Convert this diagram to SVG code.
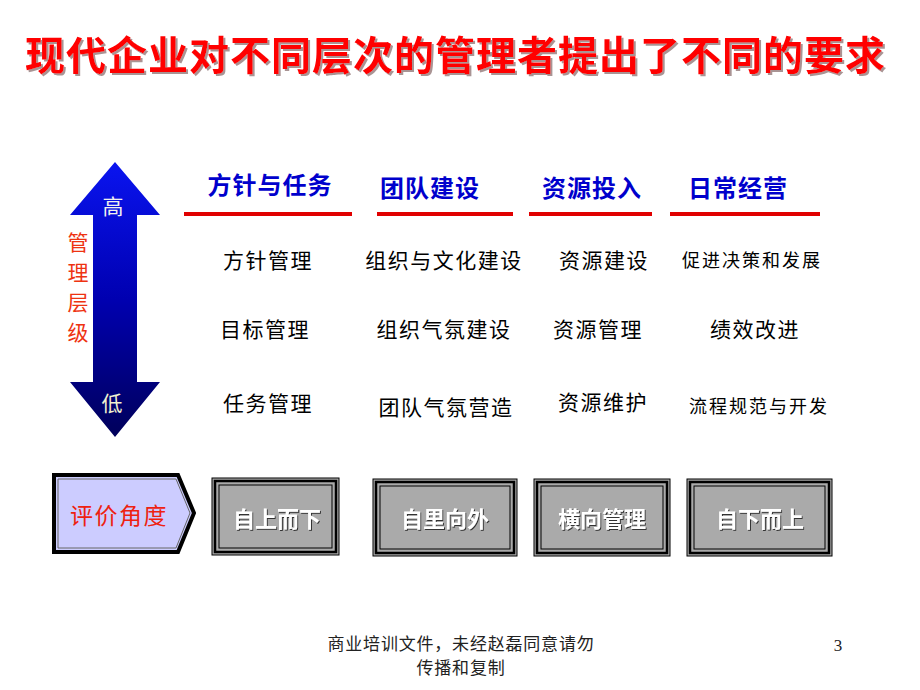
<svg xmlns="http://www.w3.org/2000/svg" width="920" height="690" viewBox="0 0 920 690">
<defs>
<linearGradient id="arrowGrad" x1="0" y1="0" x2="0" y2="1">
<stop offset="0" stop-color="#0a14f0"/>
<stop offset="0.5" stop-color="#0000b0"/>
<stop offset="1" stop-color="#00005a"/>
</linearGradient>
<filter id="tshadow" x="-5%" y="-20%" width="110%" height="140%">
<feDropShadow dx="2" dy="2" stdDeviation="0.6" flood-color="#a08888" flood-opacity="0.9"/>
</filter>
<filter id="bshadow" x="-5%" y="-20%" width="110%" height="140%">
<feDropShadow dx="1" dy="1" stdDeviation="0.3" flood-color="#333333" flood-opacity="1"/>
</filter>
</defs>
<style>
.cjk{font-family:"Noto Sans CJK SC","Noto Sans",sans-serif;}
.title{font-size:40px;font-weight:bold;fill:#ff0000;}
.head{font-size:24px;font-weight:bold;fill:#0000cc;}
.cell{font-size:21px;fill:#000000;}
.small{font-size:18px;fill:#000000;}
.uline{stroke:#e00000;stroke-width:4;}
.boxtxt{font-size:22px;fill:#ffffff;font-weight:bold;}
.foot{font-size:17px;fill:#222222;}
</style>
<rect width="920" height="690" fill="#ffffff"/>

<g id="title">
<text class="cjk title" x="455" y="70" text-anchor="middle" textLength="860" lengthAdjust="spacing" filter="url(#tshadow)">现代企业对不同层次的管理者提出了不同的要求</text>
</g>

<g id="level-arrow">
<polygon points="115,162 160,215 137,215 137,382 160,382 115,437 70,382 93,382 93,215 70,215" fill="url(#arrowGrad)"/>
<text class="cjk" x="113" y="214" text-anchor="middle" font-size="21" fill="#f0f0f0">高</text>
<text class="cjk" x="112" y="411" text-anchor="middle" font-size="21" fill="#f0f0d0">低</text>
</g>

<g id="level-label" class="cjk" font-size="21" fill="#ee3311" text-anchor="middle">
<text x="78" y="250">管</text>
<text x="78" y="280">理</text>
<text x="78" y="310">层</text>
<text x="78" y="340">级</text>
</g>

<g id="col1">
<text class="cjk head" x="270" y="194" text-anchor="middle" letter-spacing="1">方针与任务</text>
<line class="uline" x1="184" y1="214" x2="352" y2="214"/>
<text class="cjk cell" x="268" y="268" text-anchor="middle" letter-spacing="1.5">方针管理</text>
<text class="cjk cell" x="265" y="337" text-anchor="middle" letter-spacing="1.5">目标管理</text>
<text class="cjk cell" x="268" y="411" text-anchor="middle" letter-spacing="1.5">任务管理</text>
</g>

<g id="col2">
<text class="cjk head" x="430" y="197" text-anchor="middle" letter-spacing="1">团队建设</text>
<line class="uline" x1="377" y1="214" x2="513" y2="214"/>
<text class="cjk cell" x="444" y="268" text-anchor="middle" letter-spacing="1.5">组织与文化建设</text>
<text class="cjk cell" x="444" y="337" text-anchor="middle" letter-spacing="1.5">组织气氛建设</text>
<text class="cjk cell" x="446" y="415" text-anchor="middle" letter-spacing="1.5">团队气氛营造</text>
</g>

<g id="col3">
<text class="cjk head" x="592" y="197" text-anchor="middle" letter-spacing="1">资源投入</text>
<line class="uline" x1="529" y1="214" x2="652" y2="214"/>
<text class="cjk cell" x="604" y="268" text-anchor="middle" letter-spacing="1.5">资源建设</text>
<text class="cjk cell" x="598" y="337" text-anchor="middle" letter-spacing="1.5">资源管理</text>
<text class="cjk cell" x="603" y="410" text-anchor="middle" letter-spacing="1.5">资源维护</text>
</g>

<g id="col4">
<text class="cjk head" x="738" y="197" text-anchor="middle" letter-spacing="1">日常经营</text>
<line class="uline" x1="670" y1="214" x2="820" y2="214"/>
<text class="cjk small" x="752" y="267" text-anchor="middle" letter-spacing="2">促进决策和发展</text>
<text class="cjk cell" x="755" y="337" text-anchor="middle" letter-spacing="1.5">绩效改进</text>
<text class="cjk small" x="759" y="413" text-anchor="middle" letter-spacing="2">流程规范与开发</text>
</g>

<g id="eval">
<polygon points="54,475 178,475 194,513 178,552 54,552" fill="#ccccff" stroke="#000000" stroke-width="4"/>
<polygon points="58,479 176,479 190,513 176,548 58,548" fill="none" stroke="#666666" stroke-width="1"/>
<text class="cjk" x="119" y="524" text-anchor="middle" font-size="23" fill="#ee2211" letter-spacing="1.5">评价角度</text>
</g>

<g id="box1">
<rect x="212" y="478" width="127" height="77" fill="#aaaaaa" stroke="#000000" stroke-width="1"/>
<rect x="215" y="481" width="121" height="71" fill="none" stroke="#000000" stroke-width="2.5"/>
<rect x="219" y="485" width="113" height="63" fill="#aaaaaa" stroke="#000000" stroke-width="1"/>
<text class="cjk boxtxt" x="277" y="527" text-anchor="middle" filter="url(#bshadow)">自上而下</text>
</g>

<g id="box2">
<rect x="373" y="479" width="144" height="77" fill="#aaaaaa" stroke="#000000" stroke-width="1"/>
<rect x="376" y="482" width="138" height="71" fill="none" stroke="#000000" stroke-width="2.5"/>
<rect x="380" y="486" width="130" height="63" fill="#aaaaaa" stroke="#000000" stroke-width="1"/>
<text class="cjk boxtxt" x="445" y="527" text-anchor="middle" filter="url(#bshadow)">自里向外</text>
</g>

<g id="box3">
<rect x="534" y="479" width="136" height="77" fill="#aaaaaa" stroke="#000000" stroke-width="1"/>
<rect x="537" y="482" width="130" height="71" fill="none" stroke="#000000" stroke-width="2.5"/>
<rect x="541" y="486" width="122" height="63" fill="#aaaaaa" stroke="#000000" stroke-width="1"/>
<text class="cjk boxtxt" x="602" y="527" text-anchor="middle" filter="url(#bshadow)">横向管理</text>
</g>

<g id="box4">
<rect x="687" y="479" width="145" height="77" fill="#aaaaaa" stroke="#000000" stroke-width="1"/>
<rect x="690" y="482" width="139" height="71" fill="none" stroke="#000000" stroke-width="2.5"/>
<rect x="694" y="486" width="131" height="63" fill="#aaaaaa" stroke="#000000" stroke-width="1"/>
<text class="cjk boxtxt" x="760" y="527" text-anchor="middle" filter="url(#bshadow)">自下而上</text>
</g>

<g id="footer">
<text class="cjk foot" x="461" y="650" text-anchor="middle" letter-spacing="0.8">商业培训文件，未经赵磊同意请勿</text>
<text class="cjk foot" x="461" y="674" text-anchor="middle" letter-spacing="0.8">传播和复制</text>
<text x="838" y="651" text-anchor="middle" font-family="Liberation Serif, serif" font-size="17" fill="#222222">3</text>
</g>
<g id="connectors"></g>
</svg>
